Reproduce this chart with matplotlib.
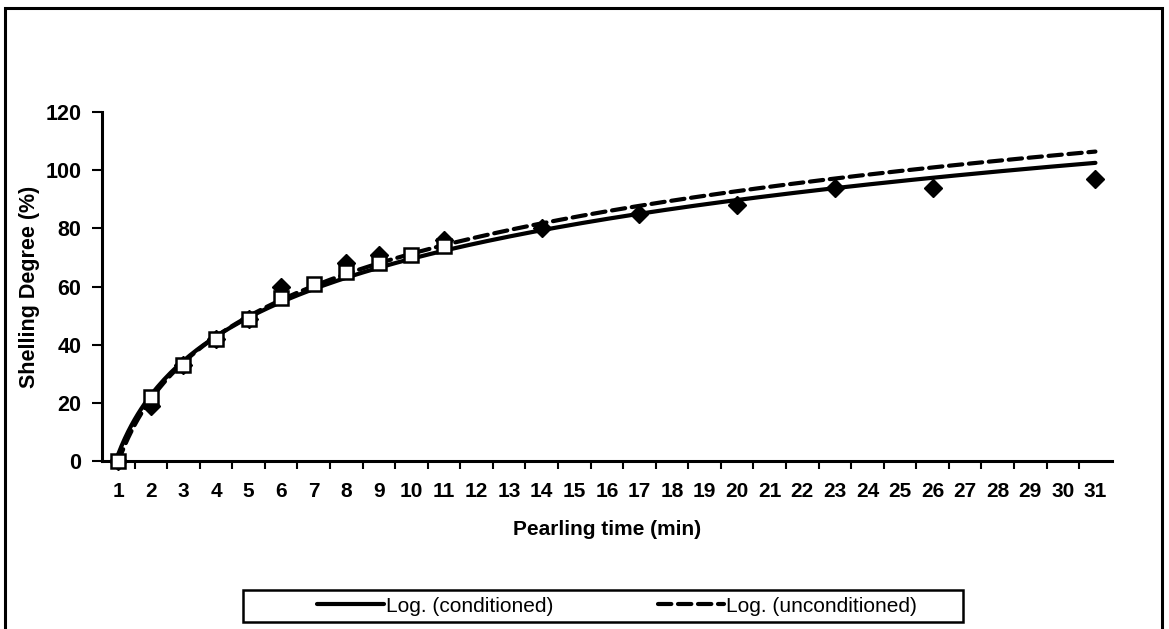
import matplotlib.pyplot as plt
import numpy as np
from matplotlib.patches import Rectangle

# Pearling time (min) and shelling degree (%) for both samples
time_cond = [1, 2, 3, 4, 5, 6, 8, 9, 11, 14, 17, 20, 23, 26, 31]
shell_cond = [0, 19, 33, 42, 49, 60, 68, 71, 76, 80, 85, 88, 94, 94, 97]

time_uncond = [1, 2, 3, 4, 5, 6, 7, 8, 9, 10, 11]
shell_uncond = [0, 22, 33, 42, 49, 56, 61, 65, 68, 71, 74]

categories = list(range(1, 32))
y_ticks = [0, 20, 40, 60, 80, 100, 120]

plt.rcParams['font.family'] = ['Liberation Sans', 'DejaVu Sans']

fig = plt.figure(figsize=(11.69, 6.29), dpi=100)
ax = fig.add_axes([0.0873, 0.267, 0.8637, 0.555])

# Logarithmic trend lines (least squares on ln x), drawn over the full time range
xfit = np.linspace(1, 31, 300)
a_c, b_c = np.polyfit(np.log(time_cond), shell_cond, 1)
a_u, b_u = np.polyfit(np.log(time_uncond), shell_uncond, 1)

ax.plot(xfit, a_c * np.log(xfit) + b_c, color='black', lw=3.0,
        solid_capstyle='round', label='Log. (conditioned)', zorder=3)
ax.plot(xfit, a_u * np.log(xfit) + b_u, color='black', lw=3.0,
        dashes=(3.2, 1.6), dash_capstyle='round',
        label='Log. (unconditioned)', zorder=3)

# Measured points
ax.plot(time_cond, shell_cond, linestyle='none', marker='D', ms=9,
        color='black', zorder=4, clip_on=False)
ax.plot(time_uncond, shell_uncond, linestyle='none', marker='s', ms=10,
        markerfacecolor='white', markeredgecolor='black', mew=1.8,
        zorder=5, clip_on=False)

ax.set_xlim(0.5, 31.5)
ax.set_ylim(0, 120)
ax.set_xticks(categories)
ax.set_xticklabels([str(c) for c in categories])
ax.set_xticks(np.arange(1.5, 31.5, 1), minor=True)
ax.set_yticks(y_ticks)

ax.tick_params(axis='x', which='major', length=0, pad=15, labelsize=15)
ax.tick_params(axis='x', which='minor', length=6, width=1.5, direction='out')
ax.tick_params(axis='y', length=7, width=1.5, direction='out', pad=8, labelsize=15.5)
for lab in ax.get_xticklabels() + ax.get_yticklabels():
    lab.set_fontweight('bold')

for side in ['top', 'right']:
    ax.spines[side].set_visible(False)
for side in ['left', 'bottom']:
    ax.spines[side].set_linewidth(2.2)

ax.set_xlabel('Pearling time (min)', fontsize=15, fontweight='bold', labelpad=14)
ax.set_ylabel('Shelling Degree (%)', fontsize=15.5, fontweight='bold', labelpad=4)

# Legend entries without frame; the box is drawn separately
fig.legend(loc='center', bbox_to_anchor=(0.528, 1 - 606 / 629), ncol=2,
           fontsize=15, frameon=False, handlelength=3.2, handletextpad=0.1,
           columnspacing=5.0)
fig.patches.append(Rectangle((243 / 1169, 1 - 622 / 629), 720 / 1169, 32 / 629,
                             transform=fig.transFigure, fill=False,
                             edgecolor='black', linewidth=1.8))

# Outer chart frame
fig.patches.append(Rectangle((5 / 1169, -0.05), 1157 / 1169, 1.05 - 8 / 629,
                             transform=fig.transFigure, fill=False,
                             edgecolor='black', linewidth=2.2))

fig.savefig('out.png', dpi=100)
